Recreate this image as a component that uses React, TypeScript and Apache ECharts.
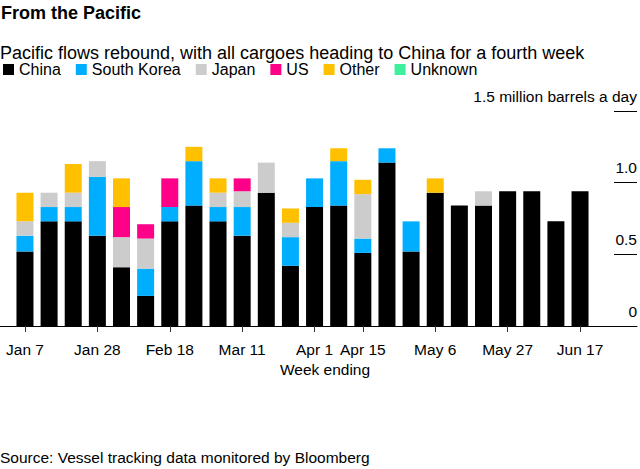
import React, { useEffect, useRef } from "react";
import * as echarts from "echarts";

const weeks = [
  "Jan 7", "Jan 14", "Jan 21", "Jan 28", "Feb 4", "Feb 11", "Feb 18", "Feb 25",
  "Mar 4", "Mar 11", "Mar 18", "Mar 25", "Apr 1", "Apr 8", "Apr 15", "Apr 22",
  "Apr 29", "May 6", "May 13", "May 20", "May 27", "Jun 3", "Jun 10", "Jun 17",
];
const labeledWeeks = ["Jan 7", "Jan 28", "Feb 18", "Mar 11", "Apr 1", "Apr 15", "May 6", "May 27", "Jun 17"];

const china = [0.52, 0.73, 0.73, 0.63, 0.41, 0.21, 0.73, 0.84, 0.73, 0.63, 0.93, 0.42, 0.83, 0.84, 0.51, 1.14, 0.52, 0.93, 0.84, 0.84, 0.94, 0.94, 0.73, 0.94];
const southKorea = [0.11, 0.1, 0.1, 0.41, 0, 0.19, 0.1, 0.31, 0.1, 0.2, 0, 0.2, 0.2, 0.31, 0.1, 0.1, 0.21, 0, 0, 0, 0, 0, 0, 0];
const japan = [0.1, 0.1, 0.1, 0.11, 0.21, 0.21, 0, 0, 0.1, 0.11, 0.21, 0.1, 0, 0, 0.31, 0, 0, 0, 0, 0.1, 0, 0, 0, 0];
const us = [0, 0, 0, 0, 0.21, 0.1, 0.2, 0, 0, 0.09, 0, 0, 0, 0, 0, 0, 0, 0, 0, 0, 0, 0, 0, 0];
const other = [0.2, 0, 0.2, 0, 0.2, 0, 0, 0.1, 0.1, 0, 0, 0.1, 0, 0.09, 0.1, 0, 0, 0.1, 0, 0, 0, 0, 0, 0];
const unknown = [0, 0, 0, 0, 0, 0, 0, 0, 0, 0, 0, 0, 0, 0, 0, 0, 0, 0, 0, 0, 0, 0, 0, 0];

const seriesNames = ["China", "South Korea", "Japan", "US", "Other", "Unknown"];
const seriesData = [china, southKorea, japan, us, other, unknown];
const colors = ["#000000", "#00aeff", "#cccccc", "#ff0088", "#ffc000", "#3cf09c"];

const yTicks = [0, 0.5, 1.0, 1.5];
const yTickLabels = ["0", "0.5", "1.0", "1.5 million barrels a day"];

const FONT = "Liberation Sans, Arial, Helvetica, sans-serif";

export default function App() {
  const ref = useRef<HTMLDivElement>(null);
  useEffect(() => {
    if (!ref.current) return;
    const chart = echarts.init(ref.current, undefined, { renderer: "svg" });
    const top = 111;
    const height = 215;
    const isLabeled = (_i: number, v: string) => labeledWeeks.includes(v);
    chart.setOption({
      animation: false,
      textStyle: { fontFamily: FONT },
      title: [
        {
          text: "From the Pacific",
          left: 1,
          top: 4,
          padding: 0,
          textStyle: { fontSize: 18, fontWeight: "bold", color: "#000", fontFamily: FONT },
        },
        {
          text: "Pacific flows rebound, with all cargoes heading to China for a fourth week",
          left: 0,
          top: 43.5,
          padding: 0,
          textStyle: { fontSize: 18, fontWeight: "normal", color: "#000", fontFamily: FONT },
        },
        {
          text: "Week ending",
          left: 325,
          textAlign: "center",
          top: 361,
          padding: 0,
          textStyle: { fontSize: 15.5, fontWeight: "normal", color: "#000", fontFamily: FONT },
        },
        {
          text: "Source: Vessel tracking data monitored by Bloomberg",
          left: 0,
          top: 449,
          padding: 0,
          textStyle: { fontSize: 15.5, fontWeight: "normal", color: "#000", fontFamily: FONT },
        },
      ],
      legend: {
        data: seriesNames,
        left: 3,
        top: 61.5,
        padding: 0,
        icon: "rect",
        itemWidth: 11,
        itemHeight: 11,
        itemGap: 15,
        selectedMode: false,
        textStyle: { fontSize: 16, color: "#000", fontFamily: FONT },
      },
      grid: [
        { left: 12.9, right: 47.9, top, height },
        { left: 614, width: 23, top, height },
        { left: 0, width: 637, top, height },
      ],
      xAxis: [
        {
          type: "category",
          gridIndex: 0,
          data: weeks,
          axisLine: { show: false },
          axisTick: { show: true, interval: isLabeled, alignWithLabel: true, length: 6, lineStyle: { color: "#333" } },
          axisLabel: { interval: isLabeled, margin: 15, fontSize: 15.5, color: "#000", fontFamily: FONT },
        },
        { type: "value", gridIndex: 1, show: false },
        {
          type: "value",
          gridIndex: 2,
          min: 0,
          max: 1,
          axisLine: { show: true, lineStyle: { color: "#000", width: 1 } },
          axisTick: { show: false },
          axisLabel: { show: false },
          splitLine: { show: false },
        },
      ],
      yAxis: [
        { type: "value", gridIndex: 0, min: 0, max: 1.5, interval: 0.5, show: false },
        {
          type: "value",
          gridIndex: 1,
          position: "right",
          min: 0,
          max: 1.5,
          interval: 0.5,
          axisLine: { show: false },
          axisTick: { show: false },
          splitLine: { show: true, lineStyle: { color: "#000", width: 1 } },
          axisLabel: {
            inside: true,
            margin: 0,
            verticalAlign: "bottom",
            padding: [0, 0, 7, 0],
            fontSize: 15.5,
            color: "#000",
            fontFamily: FONT,
            showMinLabel: true,
            showMaxLabel: true,
            formatter: (v: number) => {
              const i = yTicks.findIndex((t) => Math.abs(t - v) < 1e-9);
              return i >= 0 ? yTickLabels[i] : "";
            },
          },
        },
        { type: "value", gridIndex: 2, min: 0, max: 1.5, show: false },
      ],
      series: seriesNames.map((name, i) => ({
        name,
        type: "bar",
        stack: "total",
        xAxisIndex: 0,
        yAxisIndex: 0,
        barWidth: 17,
        itemStyle: { color: colors[i] },
        emphasis: { disabled: true },
        data: seriesData[i],
      })),
    });
    return () => chart.dispose();
  }, []);
  return <div ref={ref} style={{ position: "absolute", left: 0, top: 0, width: 640, height: 469 }} />;
}
